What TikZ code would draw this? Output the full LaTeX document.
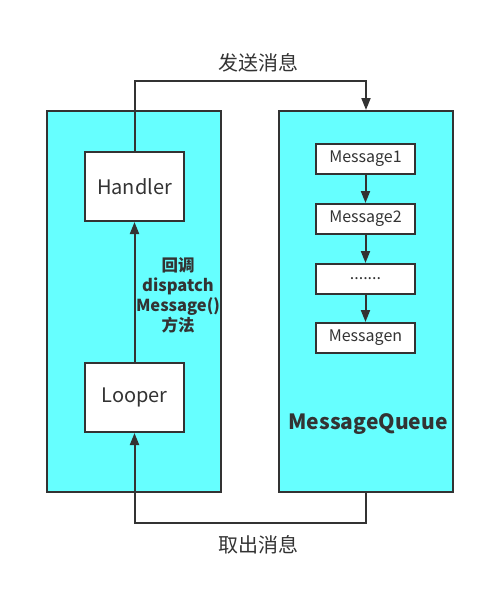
\documentclass[tikz,border=0pt]{standalone}
\usepackage{fontspec}
\setmainfont{Noto Sans CJK SC}
\usetikzlibrary{arrows.meta}
\definecolor{ln}{HTML}{333333}
\definecolor{cy}{HTML}{66FFFF}
\tikzset{
  panel/.style={draw=ln, fill=cy, line width=2pt},
  wbox/.style={draw=ln, fill=white, line width=2pt, inner sep=0pt},
  conn/.style={draw=ln, line width=2pt, -{Triangle[length=12pt,width=9pt]}},
  txt/.style={text=ln, inner sep=0pt}
}
\begin{document}
\begin{tikzpicture}[x=1pt,y=-1pt]
\useasboundingbox (0,0) rectangle (485,590);
\node[panel, minimum width=174pt, minimum height=381pt] (lp) at (134,301.5) {};
\node[panel, minimum width=174pt, minimum height=381pt] (rp) at (366,301.5) {};
\node[wbox, minimum width=99pt, minimum height=69pt, font=\fontsize{20}{22}\selectfont, text=ln] (h) at (134.5,186.5) {Handler};
\node[wbox, minimum width=99pt, minimum height=69pt, font=\fontsize{20}{22}\selectfont, text=ln] (l) at (134.5,397.5) {Looper};
\node[wbox, minimum width=99pt, minimum height=30pt, font=\fontsize{16}{18}\selectfont, text=ln] (m1) at (365.5,159) {Message1};
\node[wbox, minimum width=99pt, minimum height=30pt, font=\fontsize{16}{18}\selectfont, text=ln] (m2) at (365.5,219) {Message2};
\node[wbox, minimum width=99pt, minimum height=30pt, font=\fontsize{16}{18}\selectfont, text=ln] (m3) at (365.5,279) {.......};
\node[wbox, minimum width=99pt, minimum height=30pt, font=\fontsize{16}{18}\selectfont, text=ln] (mn) at (365.5,338) {Messagen};
\node[txt, font=\bfseries\fontsize{21}{24}\selectfont] (mq) at (368,424) {MessageQueue};
\node[txt, font=\fontsize{20}{22}\selectfont] (send) at (258,63) {发送消息};
\node[txt, font=\fontsize{20}{22}\selectfont] (take) at (258,545) {取出消息};
\node[txt, font=\bfseries\fontsize{16.5}{20}\selectfont, align=center] (cb) at (178,295) {回调\\dispatch\\Message()\\方法};
\coordinate (t1) at (134.5,81);
\coordinate (t2) at (366,81);
\coordinate (b1) at (366,523);
\coordinate (b2) at (134.5,523);
\draw[conn] (h.north) -- (t1) -- (t2) -- (rp.north -| t2);
\draw[conn] (rp.south -| b1) -- (b1) -- (b2) -- (l.south);
\draw[conn] (l.north) -- (h.south);
\draw[conn] (m1) -- (m2);
\draw[conn] (m2) -- (m3);
\draw[conn] (m3) -- (mn);
\end{tikzpicture}
\end{document}
